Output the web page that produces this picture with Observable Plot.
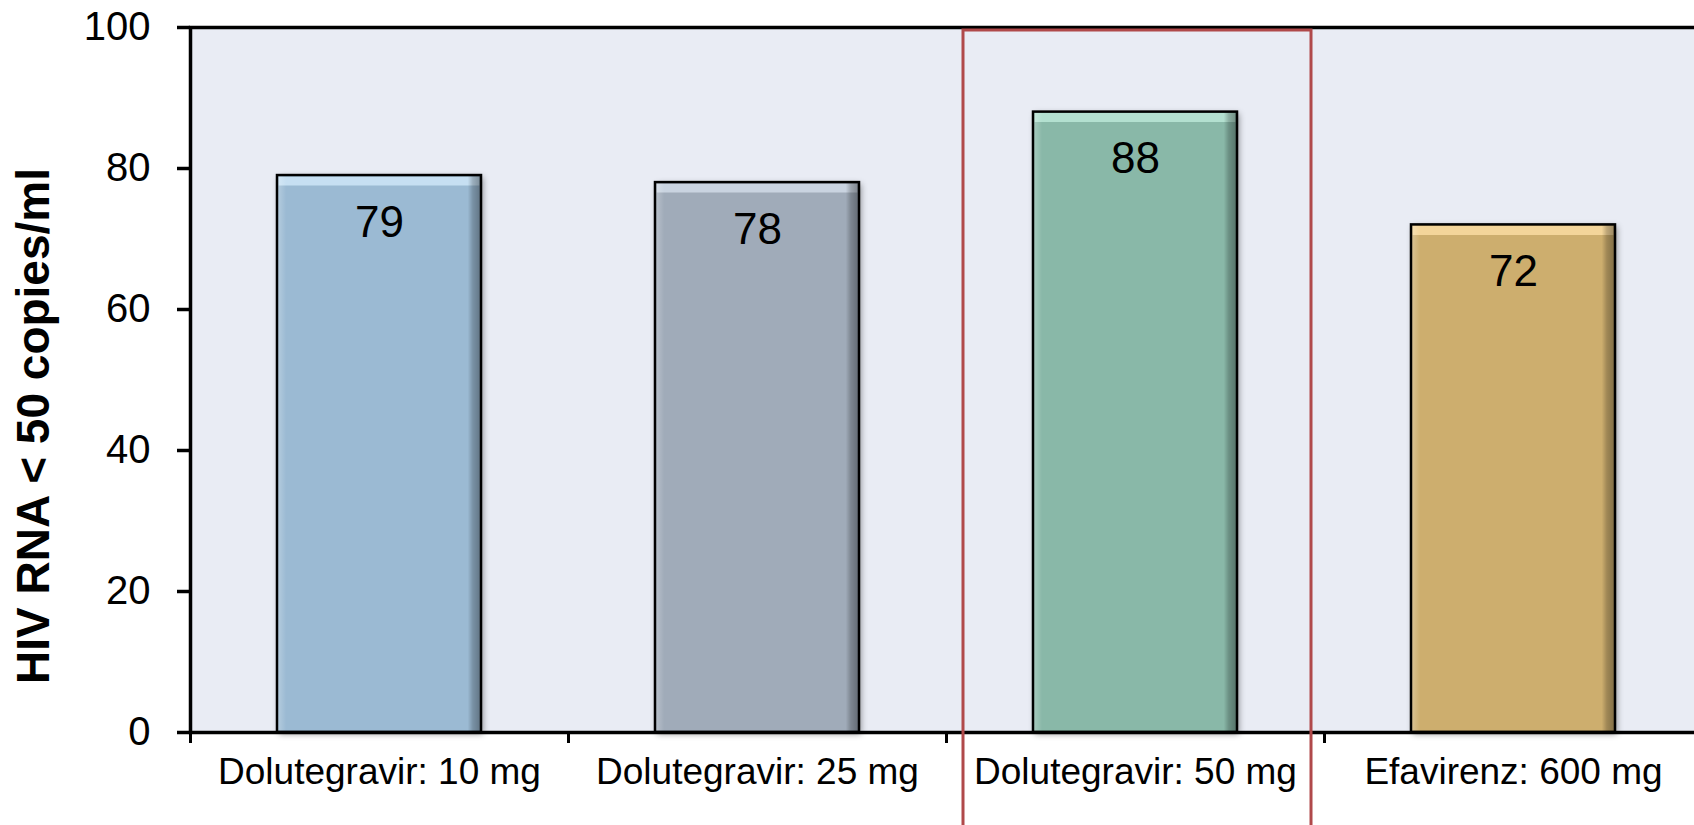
<!DOCTYPE html>
<html>
<head>
<meta charset="utf-8">
<script src="https://cdn.jsdelivr.net/npm/d3@7"></script>
<script src="https://cdn.jsdelivr.net/npm/@observablehq/plot@0.6"></script>
<style>
  html, body { margin: 0; padding: 0; background: #ffffff; overflow: hidden; }
  #chart svg { display: block; overflow: hidden; }
</style>
</head>
<body>
<svg width="0" height="0" style="position:absolute">
  <defs>
    <linearGradient id="bevel" x1="0" y1="0" x2="1" y2="0">
      <stop offset="0" stop-color="#ffffff" stop-opacity="0.28"/>
      <stop offset="0.045" stop-color="#ffffff" stop-opacity="0"/>
      <stop offset="0.935" stop-color="#000000" stop-opacity="0"/>
      <stop offset="0.96" stop-color="#000000" stop-opacity="0.22"/>
      <stop offset="1" stop-color="#000000" stop-opacity="0.38"/>
    </linearGradient>
  </defs>
</svg>
<div id="chart"></div>
<script>
const categories = ["Dolutegravir: 10 mg", "Dolutegravir: 25 mg", "Dolutegravir: 50 mg", "Efavirenz: 600 mg"];
const values = [79, 78, 88, 72];
const barColors = ["#9bbad3", "#a0abb9", "#89b8a8", "#cdae6e"];
const highlightColors = ["#c6dff2", "#c9d3e0", "#b3e0d0", "#f3d59a"];
const yTicks = [0, 20, 40, 60, 80, 100];
const yLabel = "HIV RNA < 50 copies/ml";
const highlighted = ["Dolutegravir: 50 mg"];

const data = categories.map((c, i) => ({category: c, value: values[i], color: barColors[i], light: highlightColors[i]}));

const svg = Plot.plot({
  width: 1694,
  height: 825,
  marginTop: 27,
  marginBottom: 93,
  marginLeft: 190,
  marginRight: -20,
  style: {fontFamily: "Liberation Sans, Arial, Helvetica, sans-serif", color: "black", background: "white"},
  color: {type: "identity"},
  x: {domain: categories, range: [190, 1702], paddingInner: 0.46, paddingOuter: 0.23, align: 0.5},
  y: {domain: [0, 100]},
  marks: [
    Plot.frame({fill: "#e9ecf4", ariaDescription: "panel"}),
    Plot.barY(data, {x: "category", y: "value", fill: "color", ariaDescription: "bars"}),
    Plot.tickY(data, {x: "category", y: "value", stroke: "light", strokeWidth: 9, dy: 5.5, inset: 1.5}),
    Plot.barY(data, {x: "category", y: "value", fill: "url(#bevel)"}),
    Plot.barY(data, {x: "category", y: "value", fill: "none", stroke: "black", strokeWidth: 2.5}),
    Plot.text(data, {x: "category", y: "value", text: d => String(d.value), dy: 47, fontSize: 44, fill: "black"}),
    Plot.frame({stroke: "black", strokeWidth: 3.5}),
    Plot.axisY({ticks: yTicks, tickSize: 13, tickPadding: 27, fontSize: 40, strokeWidth: 3.5, label: null}),
    Plot.axisX({tickSize: 0, tickPadding: 25, fontSize: 37, label: null}),
    Plot.axisX({tickSize: 11, dx: -189, strokeWidth: 3, tickFormat: () => "", label: null}),
    Plot.text([yLabel], {frameAnchor: "left", textAnchor: "middle", rotate: -90, dx: -156, dy: 46, fontSize: 46, fontWeight: "bold", fill: "black"}),
    Plot.barY(highlighted, {x: d => d, y1: -20, y2: 100, fill: "none", stroke: "#b0494a", strokeWidth: 3, insetLeft: -70, insetRight: -74, insetTop: 3})
  ]
});

d3.select(svg).select('g[aria-description="panel"]').style("filter", "drop-shadow(3px 4px 3px rgba(0,0,0,0.35))");
d3.select(svg).select('g[aria-description="bars"]').style("filter", "drop-shadow(2px 2px 3px rgba(0,0,0,0.4))");

document.getElementById("chart").appendChild(svg);
</script>
</body>
</html>
